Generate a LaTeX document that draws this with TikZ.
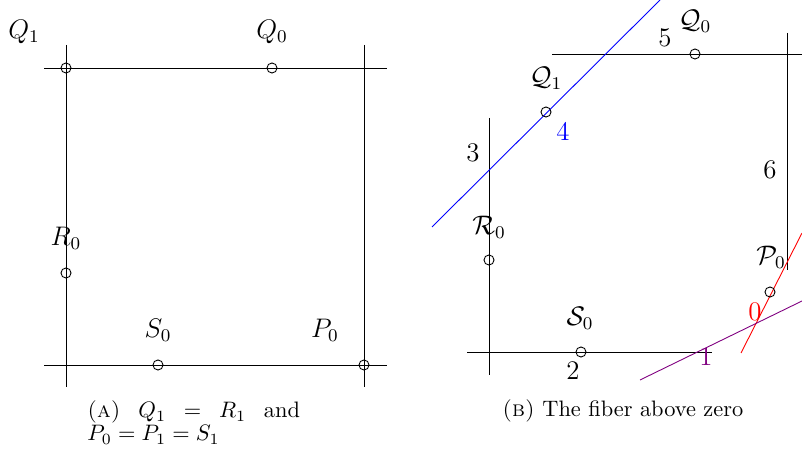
\documentclass[tikz,border=0pt]{standalone}
\usepackage{amsmath}
\begin{document}
\begin{tikzpicture}[x=0.447pt,y=-0.447pt,
  ln/.style={line width=0.4pt},
  pt/.style={circle,draw,line width=0.4pt,inner sep=0pt,minimum size=4.5pt},
  lab/.style={inner sep=0pt,font=\large}]
\useasboundingbox (0,0) rectangle (802,456);
% ---------- left panel ----------
\coordinate (tl) at (44,68);  \coordinate (tr) at (387,68);
\coordinate (bl) at (44,365); \coordinate (br) at (387,365);
\coordinate (lt) at (66,45);  \coordinate (lb) at (66,387);
\coordinate (rt) at (364,45); \coordinate (rb) at (364,387);
\draw[ln] (tl) -- (tr);
\draw[ln] (bl) -- (br);
\draw[ln] (lt) -- (lb);
\draw[ln] (rt) -- (rb);
\node[pt] (Q1) at (66,68) {};
\node[pt] (Q0) at (272,68) {};
\node[pt] (R0) at (66,273) {};
\node[pt] (S0) at (158,365) {};
\node[pt] (P0) at (364,365) {};
\node[lab] (lQ1) at (24,32) {$Q_1$};
\node[lab] (lQ0) at (272,32) {$Q_0$};
\node[lab] (lR0) at (66,238) {$R_0$};
\node[lab] (lS0) at (158,330) {$S_0$};
\node[lab] (lP0) at (325,330) {$P_0$};
\node[inner sep=0pt,anchor=base west] (capA1) at (87,418)
  {\makebox[95pt]{\textsc{(a)}\hfill$Q_1$\hfill$=$\hfill$R_1$\hfill and}};
\node[inner sep=0pt,anchor=base west] (capA2) at (87,441) {$P_0=P_1=S_1$};
% ---------- right panel ----------
\coordinate (Rtl) at (552,54);  \coordinate (Rtr) at (802,54);
\coordinate (Rrt) at (787,33);  \coordinate (Rrb) at (787,270);
\coordinate (Rlt) at (489,118); \coordinate (Rlb) at (489,375);
\coordinate (Rbl) at (467,352); \coordinate (Rbr) at (712,352);
\draw[ln] (Rtl) -- (Rtr);
\draw[ln] (Rrt) -- (Rrb);
\draw[ln] (Rlt) -- (Rlb);
\draw[ln] (Rbl) -- (Rbr);
\coordinate (b1) at (432,227); \coordinate (b2) at (660,0);
\coordinate (r1) at (741,353); \coordinate (r2) at (802,233);
\coordinate (p1) at (640,380); \coordinate (p2) at (802,301);
\draw[ln,blue] (b1) -- (b2);
\draw[ln,red] (r1) -- (r2);
\draw[ln,violet] (p1) -- (p2);
\node[pt] (cQ0) at (695,54) {};
\node[pt] (cQ1) at (546,112) {};
\node[pt] (cR0) at (489,260) {};
\node[pt] (cS0) at (581,352) {};
\node[pt] (cP0) at (770,292) {};
\node[lab] (lcQ0) at (695,21) {$\mathcal{Q}_0$};
\node[lab] (lcQ1) at (546,78) {$\mathcal{Q}_1$};
\node[lab] (lcR0) at (489,227) {$\mathcal{R}_0$};
\node[lab] (lcS0) at (580,318) {$\mathcal{S}_0$};
\node[lab] (lcP0) at (771,257) {$\mathcal{P}_0$};
\node[lab,red] (n0) at (755,312) {0};
\node[lab,violet] (n1) at (706,357) {1};
\node[lab] (n2) at (573,371) {2};
\node[lab] (n3) at (473,153) {3};
\node[lab,blue] (n4) at (563,131) {4};
\node[lab] (n5) at (665,38) {5};
\node[lab] (n6) at (770,170) {6};
\node[inner sep=0pt,anchor=base west] (capB) at (502,417) {\textsc{(b)} The fiber above zero};
\end{tikzpicture}
\end{document}
